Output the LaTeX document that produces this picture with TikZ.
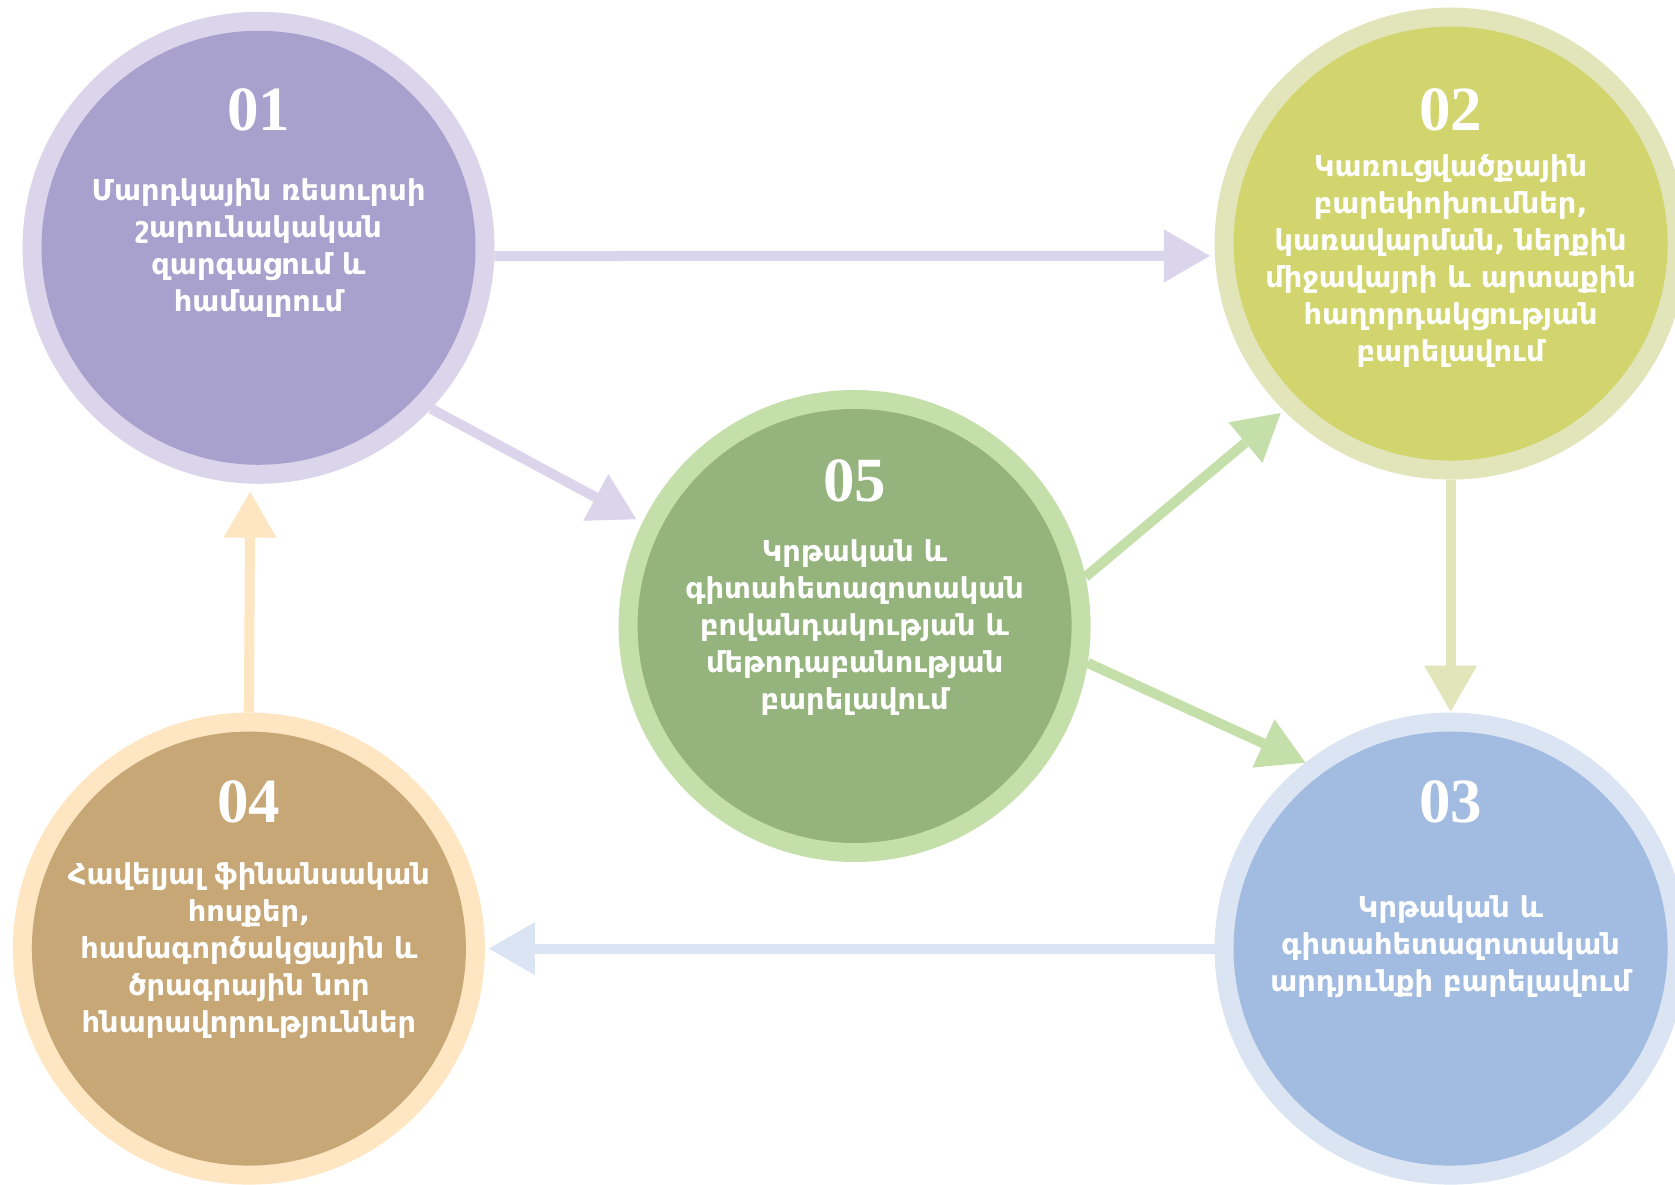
\documentclass[tikz,border=0pt]{standalone}
\usepackage{xcolor}
\usepackage{fontspec}
\usepackage{tikz}
\usetikzlibrary{arrows.meta, positioning}
\newfontfamily\armfont{DejaVu Sans}
\newfontfamily\numfont{Liberation Serif}

\definecolor{lavRing}{HTML}{DAD5EA}
\definecolor{lavCore}{HTML}{A8A1CD}
\definecolor{limeRing}{HTML}{E2E5BA}
\definecolor{limeCore}{HTML}{D2D56D}
\definecolor{leafRing}{HTML}{C4DFAA}
\definecolor{leafCore}{HTML}{95B37C}
\definecolor{sandRing}{HTML}{FFE6C2}
\definecolor{sandCore}{HTML}{C6A775}
\definecolor{skyRing}{HTML}{DAE4F2}
\definecolor{skyCore}{HTML}{A2BBE0}

\begin{document}
\begin{tikzpicture}[x=1pt, y=1pt,
            ring/.style 2 args={circle, minimum size=472pt, inner sep=0pt, outer sep=0pt, fill=#1,
                path picture={\fill[#2] (path picture bounding box.center) circle (217pt);}},
            num/.style={text=white, font=\numfont\bfseries\fontsize{63}{63}\selectfont},
            txt/.style={text=white, align=center, font=\armfont\bfseries\fontsize{28.8}{37}\selectfont},
            arr/.style={line width=10pt, draw=#1, -{Triangle[length=46pt, width=53pt, line width=0pt]}}]
            \useasboundingbox (0,0) rectangle (1675,1185);

            % circles
            \node[ring={lavRing}{lavCore}] (c1) at (258.5,937.2) {};
            \node[ring={limeRing}{limeCore}] (c2) at (1450.6,941.4) {};
            \node[ring={leafRing}{leafCore}] (c5) at (854.6,559) {};
            \node[ring={sandRing}{sandCore}] (c4) at (248.9,236.4) {};
            \node[ring={skyRing}{skyCore}] (c3) at (1450.6,236.4) {};

            % numbers
            \node[num] (n1) at ([yshift=138pt]c1.center) {01};
            \node[num] (n2) at ([yshift=134pt]c2.center) {02};
            \node[num] (n5) at ([yshift=145pt]c5.center) {05};
            \node[num] (n4) at ([yshift=147pt]c4.center) {04};
            \node[num] (n3) at ([yshift=147pt]c3.center) {03};

            % texts
            \node[txt] (t1) at (c1.center) {Մարդկային ռեսուրսի\\շարունակական\\զարգացում և\\համալրում};
            \node[txt] (t2) at ([yshift=-17pt]c2.center) {Կառուցվածքային\\բարեփոխումներ,\\կառավարման, ներքին\\միջավայրի և արտաքին\\հաղորդակցության\\բարելավում};
            \node[txt] (t5) at ([yshift=-2pt]c5.center) {Կրթական և\\գիտահետազոտական\\բովանդակության և\\մեթոդաբանության\\բարելավում};
            \node[txt] (t4) at ([yshift=-2pt]c4.center) {Հավելյալ ֆինանսական\\հոսքեր,\\համագործակցային և\\ծրագրային նոր\\հնարավորություններ};
            \node[txt] (t3) at ([yshift=2pt]c3.center) {Կրթական և\\գիտահետազոտական\\արդյունքի բարելավում};

            % arrows
            \draw[arr=lavRing, shorten >=5pt] (c1.-2.7) -- (c2.183.7);
            \draw[arr=lavRing, shorten >=7pt] (c1.-43) -- (c5.154);
            \draw[arr=leafRing, shorten >=4pt] (c5.12) -- (c2.225);
            \draw[arr=leafRing] (c5.-9) -- (c3.128);
            \draw[arr=limeRing, shorten >=1pt] (c2.-90) -- (c3.90);
            \draw[arr=skyRing, shorten >=4pt] (c3.180) -- (c4.0);
            \draw[arr=sandRing, shorten >=8pt] (c4.90) -- (c1.268);
        \end{tikzpicture}
\end{document}
